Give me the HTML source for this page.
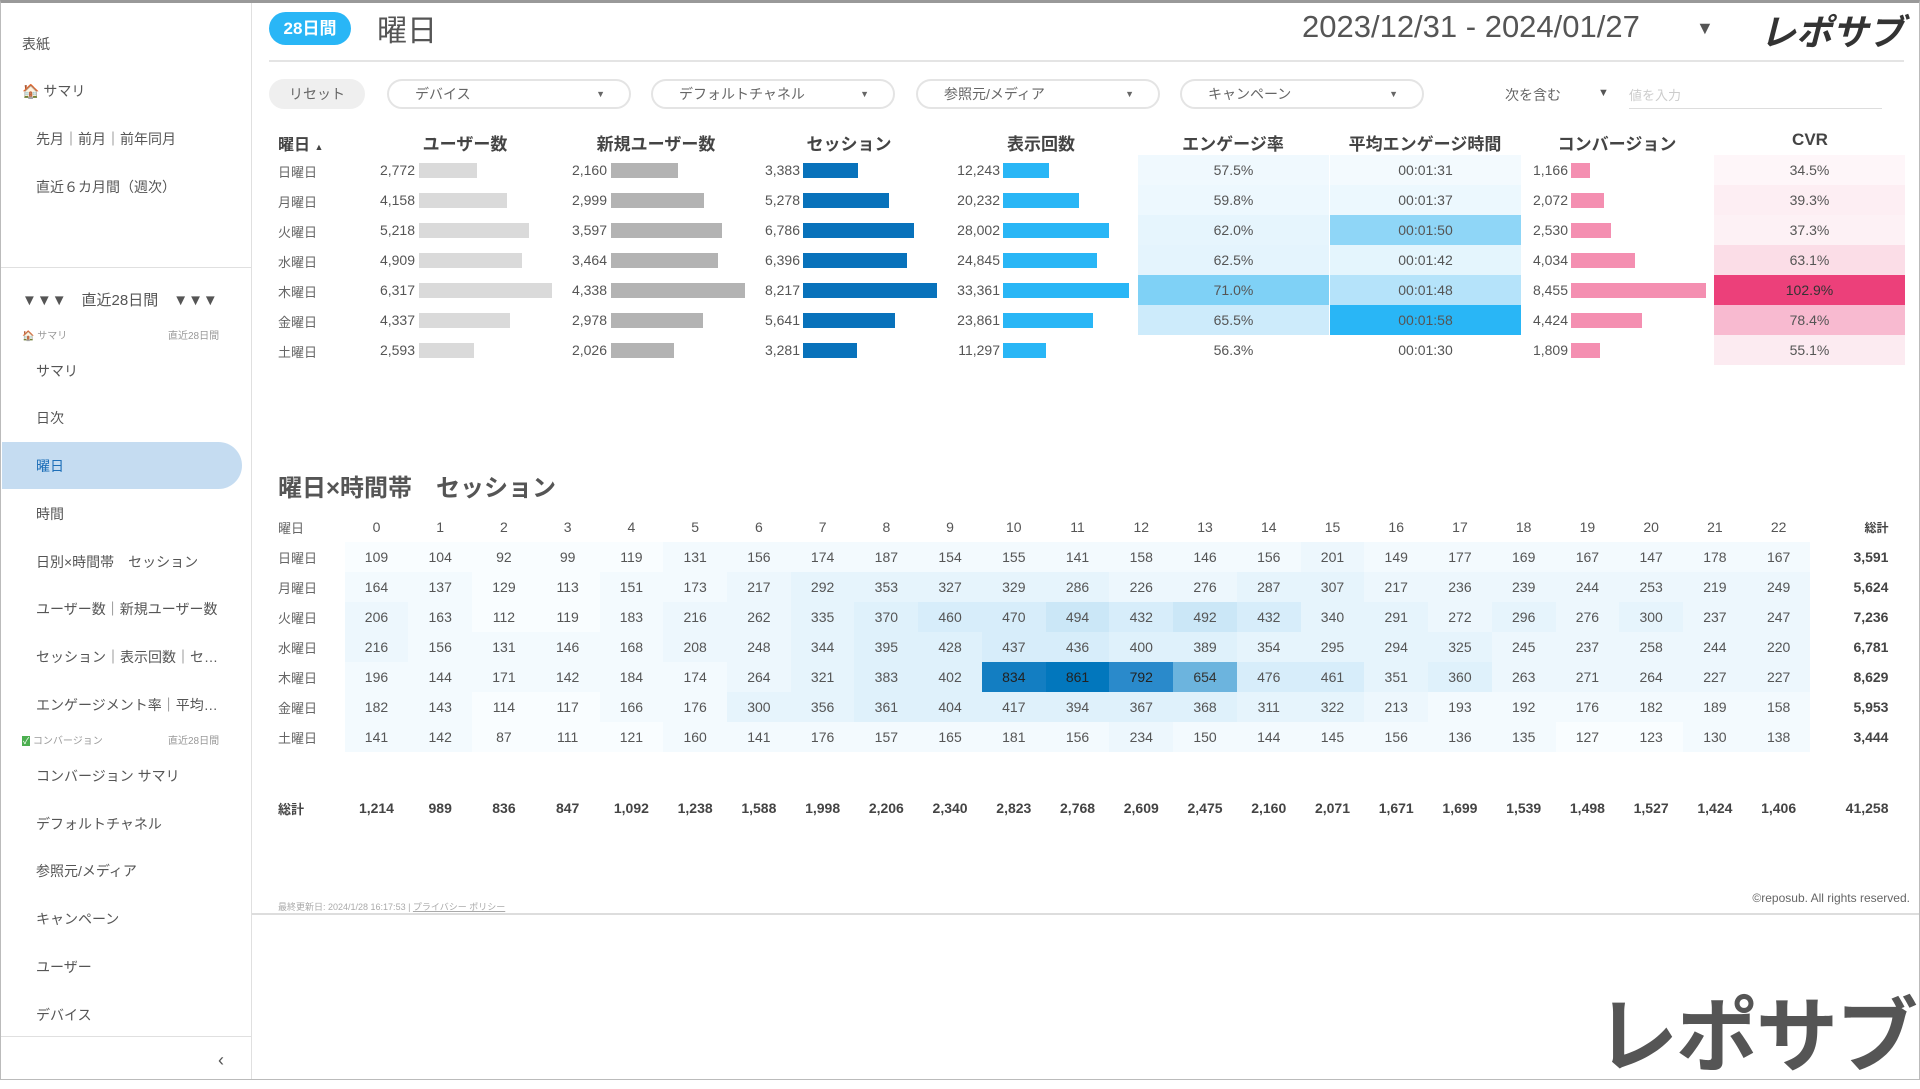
<!DOCTYPE html>
<html><head><meta charset="utf-8"><style>
*{margin:0;padding:0;box-sizing:border-box}
body{width:1920px;height:1080px;position:relative;background:#fff;font-family:"Liberation Sans","Noto Sans CJK JP",sans-serif;color:#555;overflow:hidden}
.a0{position:absolute}
#frame{position:absolute;left:0;top:0;width:1920px;height:1080px;border:1px solid #bbb;border-top:3px solid #999}
#side{position:absolute;left:0;top:0;width:252px;height:1080px;border-right:1px solid #e0e0e0}
.si{position:absolute;left:36px;font-size:14px;color:#555;white-space:nowrap}
.pill{position:absolute;height:30px;top:79px;border:2px solid #e4e4e4;border-radius:15px;font-size:14px;color:#666;padding-left:26px;line-height:26px}
.pill .ar{position:absolute;right:24px;top:0;font-size:9px}
.hd{position:absolute;top:130px;font-size:17px;font-weight:bold;color:#444;transform:translateX(-50%);white-space:nowrap}
.rl{position:absolute;left:278px;font-size:13px;color:#666}
.n{position:absolute;font-size:14px;color:#555;text-align:right;width:70px}
.b{position:absolute;height:15px}
.c{position:absolute;height:30px;width:191px;font-size:14px;text-align:center;line-height:30px;color:#555}
table{border-collapse:collapse;table-layout:fixed;position:absolute;left:270px;top:512px}
td{height:30px;font-size:14px;text-align:center;color:#555;padding:0;width:63.74px}
td.l{width:74.6px;text-align:left;padding-left:8px;font-size:13px;color:#666}
td.t{width:78px;text-align:right;font-weight:bold;color:#444}
tr.tot td{font-weight:bold;color:#444}
.a{background:#f9fdff}.b1{background:#f3fafe}.c1{background:#edf7fd}.d{background:#e6f4fc}.e{background:#dff1fb}.f{background:#d7edfa}.g{background:#cbe7f7}
.h{background:#6cb4de;color:#333}.i{background:#2a8acb;color:#222}.j{background:#137ec2;color:#222}.k{background:#0277bd;color:#222}
</style></head><body>
<div id="side">
<div class="si" style="left:22px;top:34px">表紙</div>
<div class="si" style="left:22px;top:81px">🏠 サマリ</div>
<div class="si" style="top:129px">先月｜前月｜前年同月</div>
<div class="si" style="top:177px">直近６カ月間（週次）</div>
<div class="a0" style="left:0;top:267px;width:252px;height:1px;background:#e0e0e0"></div>
<div class="si" style="left:22px;top:289px;font-size:15px">▼▼▼　直近28日間　▼▼▼</div>
<div class="si" style="left:22px;top:327px;font-size:10px;color:#999">🏠 サマリ</div>
<div class="si" style="left:168px;top:327px;font-size:10px;color:#999">直近28日間</div>
<div class="si" style="top:361px">サマリ</div>
<div class="si" style="top:408px">日次</div>
<div class="a0" style="left:2px;top:442px;width:240px;height:47px;background:#c5dcf1;border-radius:0 24px 24px 0"></div>
<div class="si" style="top:456px;color:#1e6fb8">曜日</div>
<div class="si" style="top:504px">時間</div>
<div class="si" style="top:552px">日別×時間帯　セッション</div>
<div class="si" style="top:599px">ユーザー数｜新規ユーザー数</div>
<div class="si" style="top:647px">セッション｜表示回数｜セ…</div>
<div class="si" style="top:695px">エンゲージメント率｜平均…</div>
<div class="si" style="left:22px;top:732px;font-size:10px;color:#999"><span style="color:#fff;background:#4caf50;font-size:9px;padding:0 1px">✓</span> コンバージョン</div>
<div class="si" style="left:168px;top:732px;font-size:10px;color:#999">直近28日間</div>
<div class="si" style="top:766px">コンバージョン サマリ</div>
<div class="si" style="top:814px">デフォルトチャネル</div>
<div class="si" style="top:861px">参照元/メディア</div>
<div class="si" style="top:909px">キャンペーン</div>
<div class="si" style="top:957px">ユーザー</div>
<div class="si" style="top:1005px">デバイス</div>
<div class="a0" style="left:0;top:1036px;width:252px;height:1px;background:#e0e0e0"></div>
<div class="si" style="left:218px;top:1050px;font-size:18px;color:#555">‹</div>
</div>

<div class="a0" style="left:269px;top:12px;width:82px;height:33px;border-radius:17px;background:#29b6f6;color:#fff;font-weight:bold;font-size:17px;text-align:center;line-height:33px">28日間</div>
<div class="a0" style="left:377px;top:6px;font-size:30px;color:#555">曜日</div>
<div class="a0" style="left:1302px;top:9px;font-size:31px;color:#555">2023/12/31 - 2024/01/27</div>
<div class="a0" style="left:1696px;top:18px;font-size:18px;color:#555">▼</div>
<div class="a0" style="left:1760px;top:4px;font-size:36px;font-weight:bold;font-style:italic;color:#333">レポサブ</div>
<div class="a0" style="left:269px;top:60px;width:1635px;height:2px;background:#e4e4e4"></div>

<div class="a0" style="left:269px;top:79px;width:96px;height:30px;border-radius:15px;background:#efefef;font-size:14px;color:#666;text-align:center;line-height:30px">リセット</div>
<div class="pill" style="left:387px;width:244px">デバイス<span class="ar">▼</span></div>
<div class="pill" style="left:651px;width:244px">デフォルトチャネル<span class="ar">▼</span></div>
<div class="pill" style="left:916px;width:244px">参照元/メディア<span class="ar">▼</span></div>
<div class="pill" style="left:1180px;width:244px">キャンペーン<span class="ar">▼</span></div>
<div class="a0" style="left:1505px;top:85px;font-size:14px;color:#666">次を含む</div>
<div class="a0" style="left:1598px;top:87px;font-size:11px;color:#555">▼</div>
<div class="a0" style="left:1629px;top:85px;font-size:13px;color:#ccc">値を入力</div>
<div class="a0" style="left:1629px;top:108px;width:253px;height:1px;background:#ddd"></div>

<div class="a0" style="left:278px;top:131px;font-size:16px;font-weight:bold;color:#444">曜日 <span style="font-size:9px">▲</span></div>
<div class="hd" style="left:465px">ユーザー数</div>
<div class="hd" style="left:656px">新規ユーザー数</div>
<div class="hd" style="left:849px">セッション</div>
<div class="hd" style="left:1041px">表示回数</div>
<div class="hd" style="left:1233px">エンゲージ率</div>
<div class="hd" style="left:1425px">平均エンゲージ時間</div>
<div class="hd" style="left:1617px">コンバージョン</div>
<div class="hd" style="left:1810px">CVR</div>

<div class="c" style="left:1138px;top:155px;background:#f0f9fe">57.5%</div>
<div class="c" style="left:1138px;top:185px;background:#edf8fe">59.8%</div>
<div class="c" style="left:1138px;top:215px;background:#e6f5fd">62.0%</div>
<div class="c" style="left:1138px;top:245px;background:#e4f4fd">62.5%</div>
<div class="c" style="left:1138px;top:275px;background:#7fd1f6">71.0%</div>
<div class="c" style="left:1138px;top:305px;background:#cdebfb">65.5%</div>
<div class="c" style="left:1138px;top:335px;background:#fff">56.3%</div>
<div class="c" style="left:1330px;top:155px;background:#f3fafe">00:01:31</div>
<div class="c" style="left:1330px;top:185px;background:#ecf8fe">00:01:37</div>
<div class="c" style="left:1330px;top:215px;background:#8fd6f7">00:01:50</div>
<div class="c" style="left:1330px;top:245px;background:#e4f5fd">00:01:42</div>
<div class="c" style="left:1330px;top:275px;background:#b5e3fa">00:01:48</div>
<div class="c" style="left:1330px;top:305px;background:#29b6f6">00:01:58</div>
<div class="c" style="left:1330px;top:335px;background:#fff">00:01:30</div>
<div class="c" style="left:1714px;top:155px;background:#fef6f9">34.5%</div>
<div class="c" style="left:1714px;top:185px;background:#fdeef3">39.3%</div>
<div class="c" style="left:1714px;top:215px;background:#fdf1f5">37.3%</div>
<div class="c" style="left:1714px;top:245px;background:#fbdde7">63.1%</div>
<div class="c" style="left:1714px;top:275px;background:#ec407a;color:#333">102.9%</div>
<div class="c" style="left:1714px;top:305px;background:#f8bad0">78.4%</div>
<div class="c" style="left:1714px;top:335px;background:#fcebf1">55.1%</div>

<div class="rl" style="top:162px">日曜日</div>
<div class="rl" style="top:192px">月曜日</div>
<div class="rl" style="top:222px">火曜日</div>
<div class="rl" style="top:252px">水曜日</div>
<div class="rl" style="top:282px">木曜日</div>
<div class="rl" style="top:312px">金曜日</div>
<div class="rl" style="top:342px">土曜日</div>

<div class="n" style="left:345px;top:162px">2,772</div><div class="b" style="left:419px;top:163px;width:58px;background:#dadada"></div>
<div class="n" style="left:345px;top:192px">4,158</div><div class="b" style="left:419px;top:193px;width:88px;background:#dadada"></div>
<div class="n" style="left:345px;top:222px">5,218</div><div class="b" style="left:419px;top:223px;width:110px;background:#dadada"></div>
<div class="n" style="left:345px;top:252px">4,909</div><div class="b" style="left:419px;top:253px;width:103px;background:#dadada"></div>
<div class="n" style="left:345px;top:282px">6,317</div><div class="b" style="left:419px;top:283px;width:133px;background:#dadada"></div>
<div class="n" style="left:345px;top:312px">4,337</div><div class="b" style="left:419px;top:313px;width:91px;background:#dadada"></div>
<div class="n" style="left:345px;top:342px">2,593</div><div class="b" style="left:419px;top:343px;width:55px;background:#dadada"></div>
<div class="n" style="left:537px;top:162px">2,160</div><div class="b" style="left:611px;top:163px;width:67px;background:#b3b3b3"></div>
<div class="n" style="left:537px;top:192px">2,999</div><div class="b" style="left:611px;top:193px;width:93px;background:#b3b3b3"></div>
<div class="n" style="left:537px;top:222px">3,597</div><div class="b" style="left:611px;top:223px;width:111px;background:#b3b3b3"></div>
<div class="n" style="left:537px;top:252px">3,464</div><div class="b" style="left:611px;top:253px;width:107px;background:#b3b3b3"></div>
<div class="n" style="left:537px;top:282px">4,338</div><div class="b" style="left:611px;top:283px;width:134px;background:#b3b3b3"></div>
<div class="n" style="left:537px;top:312px">2,978</div><div class="b" style="left:611px;top:313px;width:92px;background:#b3b3b3"></div>
<div class="n" style="left:537px;top:342px">2,026</div><div class="b" style="left:611px;top:343px;width:63px;background:#b3b3b3"></div>
<div class="n" style="left:730px;top:162px">3,383</div><div class="b" style="left:803px;top:163px;width:55px;background:#0872bb"></div>
<div class="n" style="left:730px;top:192px">5,278</div><div class="b" style="left:803px;top:193px;width:86px;background:#0872bb"></div>
<div class="n" style="left:730px;top:222px">6,786</div><div class="b" style="left:803px;top:223px;width:111px;background:#0872bb"></div>
<div class="n" style="left:730px;top:252px">6,396</div><div class="b" style="left:803px;top:253px;width:104px;background:#0872bb"></div>
<div class="n" style="left:730px;top:282px">8,217</div><div class="b" style="left:803px;top:283px;width:134px;background:#0872bb"></div>
<div class="n" style="left:730px;top:312px">5,641</div><div class="b" style="left:803px;top:313px;width:92px;background:#0872bb"></div>
<div class="n" style="left:730px;top:342px">3,281</div><div class="b" style="left:803px;top:343px;width:54px;background:#0872bb"></div>
<div class="n" style="left:930px;top:162px">12,243</div><div class="b" style="left:1003px;top:163px;width:46px;background:#29b6f6"></div>
<div class="n" style="left:930px;top:192px">20,232</div><div class="b" style="left:1003px;top:193px;width:76px;background:#29b6f6"></div>
<div class="n" style="left:930px;top:222px">28,002</div><div class="b" style="left:1003px;top:223px;width:106px;background:#29b6f6"></div>
<div class="n" style="left:930px;top:252px">24,845</div><div class="b" style="left:1003px;top:253px;width:94px;background:#29b6f6"></div>
<div class="n" style="left:930px;top:282px">33,361</div><div class="b" style="left:1003px;top:283px;width:126px;background:#29b6f6"></div>
<div class="n" style="left:930px;top:312px">23,861</div><div class="b" style="left:1003px;top:313px;width:90px;background:#29b6f6"></div>
<div class="n" style="left:930px;top:342px">11,297</div><div class="b" style="left:1003px;top:343px;width:43px;background:#29b6f6"></div>
<div class="n" style="left:1498px;top:162px">1,166</div><div class="b" style="left:1571px;top:163px;width:19px;background:#f48fb1"></div>
<div class="n" style="left:1498px;top:192px">2,072</div><div class="b" style="left:1571px;top:193px;width:33px;background:#f48fb1"></div>
<div class="n" style="left:1498px;top:222px">2,530</div><div class="b" style="left:1571px;top:223px;width:40px;background:#f48fb1"></div>
<div class="n" style="left:1498px;top:252px">4,034</div><div class="b" style="left:1571px;top:253px;width:64px;background:#f48fb1"></div>
<div class="n" style="left:1498px;top:282px">8,455</div><div class="b" style="left:1571px;top:283px;width:135px;background:#f48fb1"></div>
<div class="n" style="left:1498px;top:312px">4,424</div><div class="b" style="left:1571px;top:313px;width:71px;background:#f48fb1"></div>
<div class="n" style="left:1498px;top:342px">1,809</div><div class="b" style="left:1571px;top:343px;width:29px;background:#f48fb1"></div>

<div class="a0" style="left:278px;top:468px;font-size:24px;font-weight:bold;color:#555">曜日×時間帯　セッション</div>

<table>
<tr><td class="l">曜日</td><td>0</td><td>1</td><td>2</td><td>3</td><td>4</td><td>5</td><td>6</td><td>7</td><td>8</td><td>9</td><td>10</td><td>11</td><td>12</td><td>13</td><td>14</td><td>15</td><td>16</td><td>17</td><td>18</td><td>19</td><td>20</td><td>21</td><td>22</td><td class="t" style="font-size:12px">総計</td></tr>
<tr><td class="l">日曜日</td><td class="a">109</td><td class="a">104</td><td class="a">92</td><td class="a">99</td><td class="a">119</td><td class="b1">131</td><td class="b1">156</td><td class="b1">174</td><td class="b1">187</td><td class="b1">154</td><td class="b1">155</td><td class="b1">141</td><td class="b1">158</td><td class="b1">146</td><td class="b1">156</td><td class="c1">201</td><td class="b1">149</td><td class="b1">177</td><td class="b1">169</td><td class="b1">167</td><td class="b1">147</td><td class="b1">178</td><td class="b1">167</td><td class="t">3,591</td></tr>
<tr><td class="l">月曜日</td><td class="b1">164</td><td class="b1">137</td><td class="a">129</td><td class="a">113</td><td class="b1">151</td><td class="b1">173</td><td class="c1">217</td><td class="d">292</td><td class="d">353</td><td class="d">327</td><td class="d">329</td><td class="d">286</td><td class="c1">226</td><td class="c1">276</td><td class="d">287</td><td class="d">307</td><td class="c1">217</td><td class="c1">236</td><td class="c1">239</td><td class="c1">244</td><td class="c1">253</td><td class="c1">219</td><td class="c1">249</td><td class="t">5,624</td></tr>
<tr><td class="l">火曜日</td><td class="c1">206</td><td class="b1">163</td><td class="a">112</td><td class="a">119</td><td class="b1">183</td><td class="c1">216</td><td class="c1">262</td><td class="d">335</td><td class="e">370</td><td class="f">460</td><td class="f">470</td><td class="g">494</td><td class="f">432</td><td class="g">492</td><td class="f">432</td><td class="d">340</td><td class="d">291</td><td class="c1">272</td><td class="d">296</td><td class="c1">276</td><td class="d">300</td><td class="c1">237</td><td class="c1">247</td><td class="t">7,236</td></tr>
<tr><td class="l">水曜日</td><td class="c1">216</td><td class="b1">156</td><td class="b1">131</td><td class="b1">146</td><td class="b1">168</td><td class="c1">208</td><td class="c1">248</td><td class="d">344</td><td class="e">395</td><td class="e">428</td><td class="f">437</td><td class="f">436</td><td class="e">400</td><td class="e">389</td><td class="d">354</td><td class="d">295</td><td class="d">294</td><td class="d">325</td><td class="c1">245</td><td class="c1">237</td><td class="c1">258</td><td class="c1">244</td><td class="c1">220</td><td class="t">6,781</td></tr>
<tr><td class="l">木曜日</td><td class="b1">196</td><td class="b1">144</td><td class="b1">171</td><td class="b1">142</td><td class="b1">184</td><td class="b1">174</td><td class="c1">264</td><td class="d">321</td><td class="e">383</td><td class="e">402</td><td class="j">834</td><td class="k">861</td><td class="i">792</td><td class="h">654</td><td class="f">476</td><td class="f">461</td><td class="d">351</td><td class="e">360</td><td class="c1">263</td><td class="c1">271</td><td class="c1">264</td><td class="c1">227</td><td class="c1">227</td><td class="t">8,629</td></tr>
<tr><td class="l">金曜日</td><td class="b1">182</td><td class="b1">143</td><td class="a">114</td><td class="a">117</td><td class="b1">166</td><td class="b1">176</td><td class="d">300</td><td class="d">356</td><td class="e">361</td><td class="e">404</td><td class="e">417</td><td class="e">394</td><td class="e">367</td><td class="e">368</td><td class="d">311</td><td class="d">322</td><td class="c1">213</td><td class="b1">193</td><td class="b1">192</td><td class="b1">176</td><td class="b1">182</td><td class="b1">189</td><td class="b1">158</td><td class="t">5,953</td></tr>
<tr><td class="l">土曜日</td><td class="b1">141</td><td class="b1">142</td><td class="a">87</td><td class="a">111</td><td class="a">121</td><td class="b1">160</td><td class="b1">141</td><td class="b1">176</td><td class="b1">157</td><td class="b1">165</td><td class="b1">181</td><td class="b1">156</td><td class="c1">234</td><td class="b1">150</td><td class="b1">144</td><td class="b1">145</td><td class="b1">156</td><td class="b1">136</td><td class="b1">135</td><td class="a">127</td><td class="a">123</td><td class="b1">130</td><td class="b1">138</td><td class="t">3,444</td></tr>
<tr><td colspan="25" style="height:41px"></td></tr>
<tr class="tot"><td class="l" style="font-weight:bold">総計</td><td>1,214</td><td>989</td><td>836</td><td>847</td><td>1,092</td><td>1,238</td><td>1,588</td><td>1,998</td><td>2,206</td><td>2,340</td><td>2,823</td><td>2,768</td><td>2,609</td><td>2,475</td><td>2,160</td><td>2,071</td><td>1,671</td><td>1,699</td><td>1,539</td><td>1,498</td><td>1,527</td><td>1,424</td><td>1,406</td><td class="t">41,258</td></tr>
</table>

<div class="a0" style="left:278px;top:900px;font-size:9px;color:#aaa">最終更新日: 2024/1/28 16:17:53 | <span style="text-decoration:underline">プライバシー ポリシー</span></div>
<div class="a0" style="right:10px;top:891px;font-size:12px;color:#666">©reposub. All rights reserved.</div>
<div class="a0" style="left:252px;top:913px;width:1668px;height:2px;background:#ddd"></div>
<div class="a0" style="left:1596px;top:970px;font-size:82px;font-weight:bold;color:#555;letter-spacing:-2px">レポサブ</div>
<div id="frame"></div>
</body></html>
